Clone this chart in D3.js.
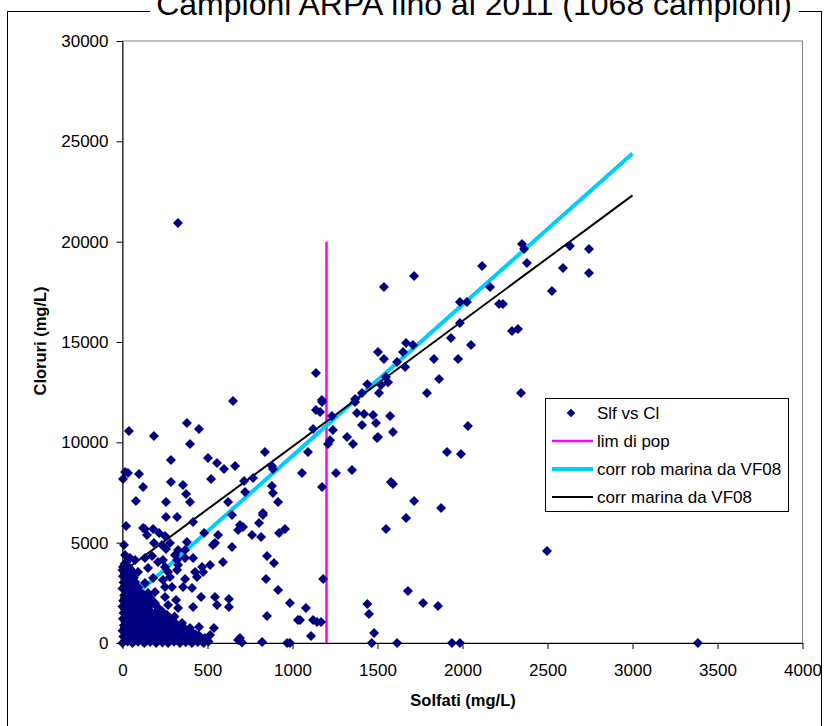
<!DOCTYPE html>
<html>
<head>
<meta charset="utf-8">
<script src="https://cdn.jsdelivr.net/npm/d3@7"></script>
<style>
  body { margin: 0; background: #fff; }
  svg { display: block; font-family: "Liberation Sans", Arial, sans-serif; }
</style>
</head>
<body>
<div id="chart"></div>
<script>
// tick labels
const xTicks = [0, 500, 1000, 1500, 2000, 2500, 3000, 3500, 4000];
const yTicks = [0, 5000, 10000, 15000, 20000, 25000, 30000];

// reference lines
const limPop = [[1200, 0], [1200, 20000]];
const corrRob = [[0, 1800], [3000, 24390]];
const corrMarina = [[0, 3537], [3000, 22305]];

// Slf vs Cl: sparse points
const puntiSparsi = [
  [326, 20930], [1538, 17740], [1138, 13454], [1173, 12109], [1503, 14500], [1538, 14150],
  [1668, 14950], [1650, 14500], [1615, 14000], [1662, 13750], [1440, 12900], [1409, 12460],
  [1509, 12460], [1550, 13250], [1562, 13000], [1521, 12860], [1368, 12160], [1715, 18290],
  [2350, 19880], [2362, 19630], [2379, 18940], [2115, 18790], [2162, 17740], [1985, 16990],
  [2026, 16990], [1985, 15950], [2215, 16890], [2238, 16890], [2291, 15550], [2326, 15650],
  [1932, 15200], [2050, 14850], [1832, 14150], [1974, 14150], [1862, 13150], [1791, 12460],
  [2344, 12460], [2526, 17540], [2591, 18690], [2632, 19780], [2744, 19630], [2744, 18440],
  [2032, 10810], [1709, 14850], [1368, 12010], [1379, 11460], [1421, 11410], [1474, 11360],
  [1491, 10960], [1409, 10860], [1574, 11310], [1591, 10510], [1503, 10260], [1138, 11610],
  [1162, 11510], [1174, 12010], [1232, 11310],
  [1121, 10660], [1238, 10610], [1221, 10110], [1209, 9920], [1091, 9520], [1056, 8470],
  [1174, 7770], [1256, 8470], [1350, 8620], [1321, 10260], [1356, 9920], [1497, 10210],
  [1909, 9520], [1991, 9420], [1579, 8020], [1591, 7920], [1715, 7080], [1874, 6730],
  [1668, 6230], [1550, 5680], [2497, 4580], [1180, 3190], [1679, 2590], [1768, 1990],
  [1856, 1840], [1440, 1940], [1450, 1450], [1480, 500], [1466, 0], [1615, 0], [1938, 0],
  [1985, 0], [1079, 1740], [1044, 1150], [1121, 1150], [1144, 1050], [1168, 1050],
  [1109, 350], [3385, 0],
  [650, 12060], [38, 10560], [185, 10310], [379, 10960], [450, 10660], [397, 9920],
  [285, 9120], [503, 9220], [556, 8970], [597, 8670], [662, 8820], [15, 8520], [32, 8470],
  [3, 8170], [97, 8420], [121, 7770], [285, 8020], [356, 7870], [521, 8170], [374, 7420],
  [715, 8070], [768, 8220], [838, 9520], [879, 8820], [885, 8670], [879, 7820], [885, 7470],
  [721, 7520], [826, 6480], [121, 5730], [703, 30]
];

// Slf vs Cl: medium density area below 7500 mg/L
const puntiMedi = [
  [79, 7080], [256, 7030], [397, 7030], [621, 7030], [915, 7030], [256, 6280], [321, 6280],
  [415, 6030], [644, 6380], [826, 6380], [803, 5980], [21, 5830], [132, 5680], [180, 5680],
  [215, 5480], [144, 5380], [250, 5330], [691, 5880], [709, 5780], [680, 5630], [921, 5480],
  [956, 5680], [762, 5380], [815, 5280], [480, 5480], [562, 5380], [544, 4980], [532, 4880],
  [185, 4980], [232, 4880], [279, 4980], [379, 5030], [9, 4880], [644, 4780], [256, 4680],
  [327, 4630], [368, 4630], [15, 4380], [44, 4240], [74, 4140], [132, 4240], [174, 4340],
  [309, 4380], [321, 4140], [238, 4140], [209, 4040], [415, 4240], [368, 4240], [850, 4340],
  [891, 3990], [591, 4040], [515, 3890], [468, 3790], [3, 3790], [32, 3640], [91, 3540],
  [150, 3740], [250, 3790], [327, 3890], [268, 3540], [321, 3640], [427, 3540], [474, 3540],
  [438, 3290], [368, 3190], [238, 3140], [279, 3290], [180, 3240], [844, 3190], [15, 3140],
  [74, 3040], [132, 2990], [409, 2740], [356, 2790], [291, 2790], [250, 2790], [191, 2540],
  [150, 2490], [103, 2540], [26, 2640], [915, 2640], [462, 2290], [544, 2290], [626, 2190],
  [556, 1890], [415, 1790], [327, 1740], [268, 1890], [315, 2140], [250, 2290], [191, 1990],
  [626, 1790], [985, 1990], [850, 1350], [1032, 1150], [262, 1400], [209, 1300], [132, 1500],
  [74, 1790], [350, 1000], [397, 750], [450, 800], [538, 750], [515, 400], [691, 250],
  [680, 150], [821, 50], [968, 0], [985, 0]
];

// Slf vs Cl: dense cluster near the origin
const puntiDensi = [
  [0, 0], [5, 320], [0, 610], [8, 890], [2, 1210], [6, 1490], [0, 1820], [4, 2110], [10, 2380],
  [0, 2720], [6, 3010], [3, 3330], [0, 3620], [12, 3950],
  [30, 80], [28, 390], [35, 700], [25, 1010], [32, 1300], [38, 1640], [27, 1950], [33, 2240],
  [36, 2560], [29, 2860], [40, 3180], [26, 3480], [35, 3810], [30, 4100],
  [58, 0], [62, 280], [55, 560], [65, 860], [60, 1160], [57, 1440], [66, 1760], [61, 2050],
  [54, 2350], [63, 2650], [59, 2980], [68, 3250], [57, 3560],
  [92, 60], [97, 350], [90, 650], [100, 960], [94, 1250], [99, 1560], [91, 1880], [96, 2180],
  [102, 2450], [93, 2780],
  [128, 0], [133, 300], [126, 590], [135, 900], [130, 1200], [127, 1520], [136, 1830],
  [131, 2120], [125, 2400],
  [162, 50], [168, 370], [160, 680], [170, 980], [166, 1290], [163, 1600], [171, 1950], [165, 2250],
  [198, 0], [204, 320], [196, 620], [207, 930], [200, 1250], [195, 1550], [205, 1800],
  [235, 20], [238, 330], [232, 640], [240, 950], [236, 1260], [233, 1580],
  [268, 0], [273, 290], [266, 600], [275, 880], [270, 1180],
  [303, 60], [308, 360], [300, 700], [310, 1000], [306, 1320],
  [338, 0], [343, 310], [336, 620], [345, 900],
  [372, 40], [378, 350], [370, 680],
  [408, 0], [413, 300], [405, 560],
  [443, 50], [448, 380], [478, 0], [483, 250], [506, 80]
];

// Slf vs Cl: more points filling the cluster
const puntiDensi2 = [
  [15, 150], [18, 460], [12, 760], [16, 1050], [20, 1360], [14, 1660], [17, 1980], [13, 2260],
  [19, 2560], [15, 2860], [18, 3160], [14, 3460],
  [45, 170], [48, 480], [42, 770], [47, 1080], [44, 1380], [49, 1700], [43, 2000], [46, 2300],
  [48, 2600], [44, 2900], [47, 3380], [45, 3700],
  [78, 140], [80, 430], [76, 740], [82, 1030], [79, 1330], [77, 1650], [81, 1950], [78, 2250],
  [80, 2600], [76, 2900],
  [112, 180], [115, 480], [110, 780], [116, 1080], [113, 1380], [111, 1700], [114, 2000], [112, 2300],
  [148, 150], [150, 450], [146, 760], [151, 1060], [147, 1380], [149, 1700], [152, 2000],
  [182, 170], [185, 480], [180, 800], [184, 1100], [181, 1420],
  [218, 160], [220, 470], [216, 790], [222, 1100], [219, 1420],
  [252, 150], [255, 460], [250, 760], [256, 1050],
  [288, 170], [290, 480], [286, 800], [291, 1120],
  [322, 150], [325, 460], [320, 780],
  [356, 160], [358, 480], [354, 800],
  [390, 170], [392, 480], [425, 150], [428, 430], [460, 180], [495, 200]
];

const legendLabels = ["Slf vs Cl", "lim di pop", "corr rob marina da VF08", "corr marina da VF08"];

const width = 825, height = 726;
const navy = "#000080", magenta = "#FF00FF", cyan = "#00CCFF";

const svg = d3.select("#chart")
    .append("svg")
    .attr("width", width)
    .attr("height", height);

// chart area frame
svg.append("rect")
    .attr("x", 7.5).attr("y", 11.5)
    .attr("width", 814).attr("height", 760)
    .attr("fill", "none")
    .attr("stroke", "#000");

// title (white box hides the frame behind it)
svg.append("rect")
    .attr("x", 150).attr("y", 0)
    .attr("width", 649).attr("height", 22)
    .attr("fill", "#fff");
svg.append("text")
    .attr("x", 474).attr("y", 15)
    .attr("text-anchor", "middle")
    .style("font-size", "32px")
    .text("Campioni ARPA fino al 2011 (1068 campioni)");

const x = d3.scaleLinear().domain([0, 4000]).range([122.5, 802.5]);
const y = d3.scaleLinear().domain([0, 30000]).range([643, 41]);

// plot area border (grey top / right)
svg.append("rect")
    .attr("x", x(0)).attr("y", y(30000))
    .attr("width", x(4000) - x(0)).attr("height", y(0) - y(30000))
    .attr("fill", "none")
    .attr("stroke", "#808080");

const line = d3.line().x(d => x(d[0])).y(d => y(d[1]));

svg.append("path").attr("d", line(limPop))
    .attr("fill", "none").attr("stroke", magenta).attr("stroke-width", 2.5);
svg.append("path").attr("d", line(corrRob))
    .attr("fill", "none").attr("stroke", cyan).attr("stroke-width", 4);
svg.append("path").attr("d", line(corrMarina))
    .attr("fill", "none").attr("stroke", "#000").attr("stroke-width", 2);

const diamond = "M0,-5L5,0L0,5L-5,0Z";
const allPoints = puntiDensi.concat(puntiDensi2, puntiMedi, puntiSparsi);

svg.append("g")
    .selectAll("path")
    .data(allPoints)
    .join("path")
    .attr("d", diamond)
    .attr("transform", d => `translate(${x(d[0])},${y(d[1])})`)
    .attr("fill", navy);

// axes
const yAxis = svg.append("g")
    .attr("transform", `translate(${x(0)},0)`)
    .call(d3.axisLeft(y).tickValues(yTicks).tickFormat(d3.format("d"))
        .tickSize(6).tickSizeOuter(0).tickPadding(8));
const xAxis = svg.append("g")
    .attr("transform", `translate(0,${y(0)})`)
    .call(d3.axisBottom(x).tickValues(xTicks).tickFormat(d3.format("d"))
        .tickSize(6).tickSizeOuter(0).tickPadding(15));

[yAxis, xAxis].forEach(g => {
    g.selectAll("text")
        .style("font-family", '"Liberation Sans", Arial, sans-serif')
        .style("font-size", "17px")
        .attr("fill", "#000");
    g.selectAll("line").attr("stroke", "#000");
    g.select(".domain").attr("stroke", "#000");
});

// axis titles
svg.append("text")
    .attr("x", 463).attr("y", 706)
    .attr("text-anchor", "middle")
    .style("font-size", "16.5px")
    .style("font-weight", "bold")
    .text("Solfati (mg/L)");
svg.append("text")
    .attr("transform", "translate(46,341) rotate(-90)")
    .attr("text-anchor", "middle")
    .style("font-size", "16.5px")
    .style("font-weight", "bold")
    .text("Cloruri (mg/L)");

// legend
const legend = svg.append("g");
legend.append("rect")
    .attr("x", 545.5).attr("y", 398.5)
    .attr("width", 243).attr("height", 113)
    .attr("fill", "#fff")
    .attr("stroke", "#000");

const rowY = [413, 441, 469, 497];
const item = legend.selectAll("g.item")
    .data(legendLabels)
    .join("g")
    .attr("class", "item")
    .attr("transform", (d, i) => `translate(0,${rowY[i]})`);

item.append("text")
    .attr("x", 597).attr("y", 6)
    .style("font-size", "17px")
    .text(d => d);

item.filter((d, i) => i === 0)
    .append("path")
    .attr("d", "M0,-4.3L4.3,0L0,4.3L-4.3,0Z")
    .attr("transform", "translate(571,0)")
    .attr("fill", navy);

const legendStyles = [null, [magenta, 2.5], [cyan, 4], ["#000", 2]];
item.filter((d, i) => i > 0)
    .append("line")
    .attr("x1", 552).attr("x2", 593)
    .attr("stroke", (d, i) => legendStyles[i + 1][0])
    .attr("stroke-width", (d, i) => legendStyles[i + 1][1]);
</script>
</body>
</html>
